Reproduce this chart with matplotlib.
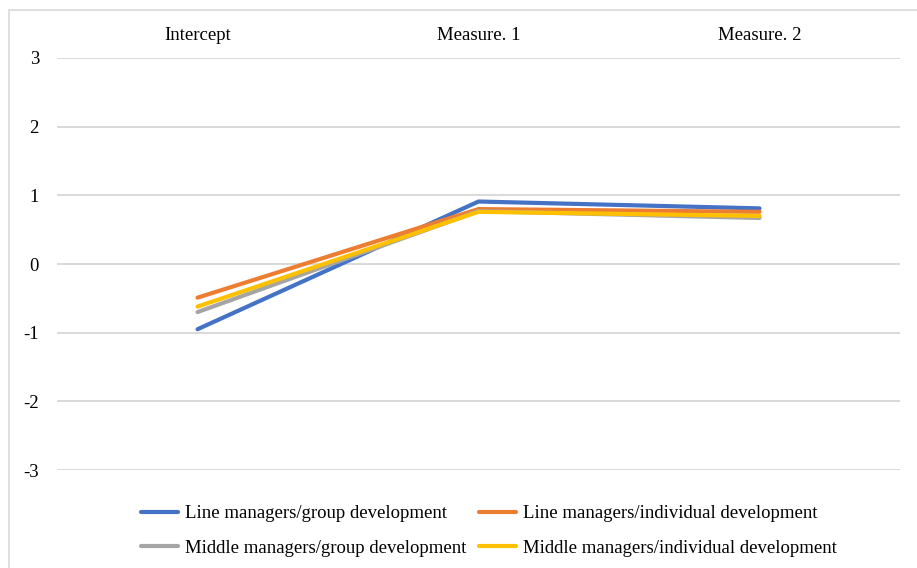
import matplotlib

matplotlib.use("Agg")
import matplotlib.pyplot as plt
from matplotlib.patches import Rectangle

categories = ["Intercept", "Measure. 1", "Measure. 2"]
series_names = [
    "Line managers/group development",
    "Line managers/individual development",
    "Middle managers/group development",
    "Middle managers/individual development",
]
line_group = [-0.95, 0.91, 0.81]
line_indiv = [-0.49, 0.80, 0.76]
middle_group = [-0.70, 0.77, 0.67]
middle_indiv = [-0.62, 0.76, 0.70]
colors = ["#4472C4", "#ED7D31", "#A5A5A5", "#FFC000"]
y_ticks = [-3, -2, -1, 0, 1, 2, 3]

plt.rcParams["font.family"] = ["Liberation Serif", "DejaVu Serif"]

fig = plt.figure(figsize=(9.17, 5.68), dpi=100)
ax = fig.add_axes([0.0622, 0.1725, 0.9193, 0.7254])

# thin frame around the chart area
fig.patches.append(Rectangle((9 / 917, -0.05), 1.1, 1 - 10 / 568 + 0.05,
                             transform=fig.transFigure, fill=False,
                             edgecolor="#d9d9d9", linewidth=1.2))

x = range(len(categories))
lines = []
for vals, name, c in zip([line_group, line_indiv, middle_group, middle_indiv],
                         series_names, colors):
    ln, = ax.plot(x, vals, color=c, linewidth=3.0, label=name, solid_capstyle="round")
    lines.append(ln)

ax.set_xlim(-0.5, len(categories) - 0.5)
ax.set_ylim(-3, 3)
ax.set_yticks(y_ticks)
ax.set_yticklabels([str(v) for v in y_ticks])
ax.set_xticks(list(x))
ax.set_xticklabels(categories)
ax.xaxis.tick_top()
ax.tick_params(axis="x", length=0, pad=10, labelsize=13.5)
ax.tick_params(axis="y", length=0, pad=13, labelsize=13.5)
ax.grid(axis="y", color="#d9d9d9", linewidth=1.4)
ax.set_axisbelow(True)
for s in ax.spines.values():
    s.set_visible(False)

# legend fills column-wise, so order handles to read row by row
order = [0, 2, 1, 3]
fig.legend([lines[i] for i in order], [series_names[i] for i in order],
           loc="center", bbox_to_anchor=(0.533, 0.0652), ncol=2, frameon=False,
           fontsize=13.5, handlelength=2.0, columnspacing=0.64, labelspacing=0.94,
           handletextpad=0.37)

fig.savefig("out.png", dpi=100)
